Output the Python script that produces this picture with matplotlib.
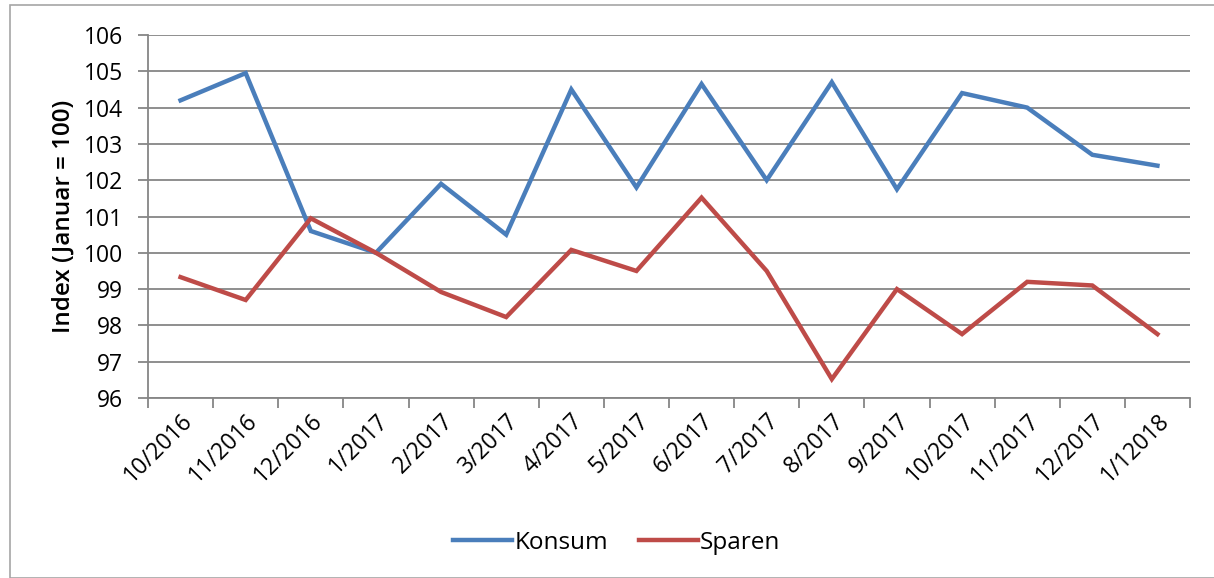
import matplotlib
matplotlib.use("Agg")
import matplotlib.pyplot as plt
from matplotlib.patches import Rectangle

plt.rcParams['font.family'] = ['Open Sans', 'DejaVu Sans']

months = ["10/2016", "11/2016", "12/2016", "1/2017", "2/2017", "3/2017", "4/2017", "5/2017",
          "6/2017", "7/2017", "8/2017", "9/2017", "10/2017", "11/2017", "12/2017", "1/12018"]
konsum = [104.2, 104.95, 100.6, 100.0, 101.9, 100.5, 104.5, 101.8,
          104.65, 102.0, 104.7, 101.75, 104.4, 104.0, 102.7, 102.4]
sparen = [99.33, 98.7, 100.95, 100.0, 98.92, 98.23, 100.08, 99.5,
          101.52, 99.5, 96.52, 99.0, 97.76, 99.2, 99.1, 97.76]

fig = plt.figure(figsize=(12.14, 5.78), dpi=100)
fig.patches.append(Rectangle((10/1214, 0), 1 - 10/1214 + 0.01, 1 - 5/578, transform=fig.transFigure,
                             fill=False, edgecolor='#A6A6A6', linewidth=1.2))
ax = fig.add_axes([148/1214, 1 - 398/578, (1190-148)/1214, (398-35)/578])

x = list(range(len(months)))
ax.plot(x, konsum, color='#4A7EBB', lw=3.2, label='Konsum', solid_joinstyle='miter')
ax.plot(x, sparen, color='#BE4B48', lw=3.2, label='Sparen', solid_joinstyle='miter')

ax.set_xlim(-0.5, len(months) - 0.5)
ax.set_ylim(96, 106)
ax.set_yticks(range(96, 107))
ax.yaxis.grid(True, color='#868686', lw=1.3)
ax.set_axisbelow(True)

ax.set_xticks([i - 0.5 for i in range(len(months) + 1)])
ax.set_xticklabels([])
ax.set_xticks(x, minor=True)
ax.set_xticklabels(months, minor=True, rotation=45, ha='right', va='top',
                   rotation_mode='anchor', fontsize=16.5)
ax.tick_params(axis='x', which='minor', length=0, pad=8)
ax.tick_params(axis='x', which='major', length=7, color='#868686', width=1.3)
ax.tick_params(axis='y', length=7, color='#868686', width=1.3, labelsize=16.5, pad=11)

for s in ['top', 'right']:
    ax.spines[s].set_visible(False)
for s in ['left', 'bottom']:
    ax.spines[s].set_color('#868686')
    ax.spines[s].set_linewidth(1.3)

ax.set_ylabel('Index (Januar = 100)', fontsize=17.5, fontweight='semibold', labelpad=6)

fig.legend(loc='center', bbox_to_anchor=(617/1214, 1 - 543/578), ncol=2, frameon=False,
           fontsize=17.5, handlelength=2.4, handletextpad=0.1, columnspacing=1.3)

fig.savefig('out.png', dpi=100)
